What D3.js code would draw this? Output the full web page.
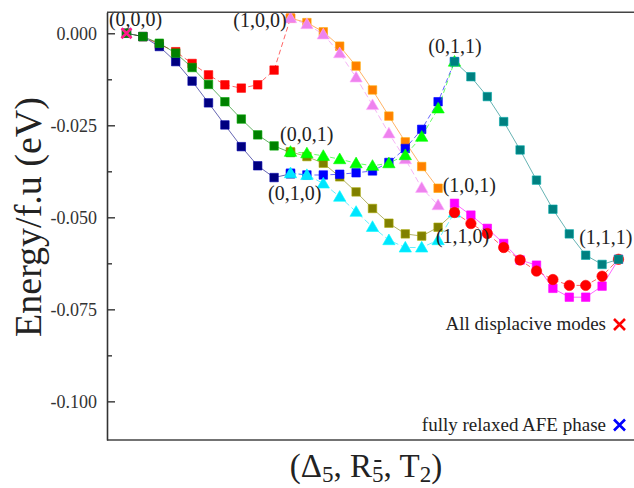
<!DOCTYPE html>
<html><head><meta charset="utf-8">
<script src="https://cdn.jsdelivr.net/npm/d3@7"></script>
<style>
html,body{margin:0;padding:0;background:#fff;}
svg{display:block;font-family:"Liberation Serif","Times New Roman",serif;}
svg text{font-family:"Liberation Serif","Times New Roman",serif;}
</style>
</head><body>
<svg id="c" width="634" height="488"></svg>
<script>
// ---------- data ----------
const yTicks = [0, -0.025, -0.05, -0.075, -0.1];
const yMinorTicks = [-0.0125, -0.0375, -0.0625, -0.0875];
const yTickLabels = ["0.000", "-0.025", "-0.050", "-0.075", "-0.100"];

// path step index where each series starts
const redSqStart = 0;
const redSq = [0, -0.0009, -0.0030, -0.0050, -0.0082, -0.0113, -0.0140, -0.0149, -0.0140, -0.0100, 0.0041];
const navySqStart = 0;
const navySq = [0, -0.0009, -0.0036, -0.0077, -0.0130, -0.0189, -0.0249, -0.0308, -0.0360, -0.0392, -0.0382];
const greenSqStart = 0;
const greenSq = [0, -0.0009, -0.0027, -0.0054, -0.0093, -0.0139, -0.0186, -0.0233, -0.0276, -0.0306, -0.0324];
const oliveSqStart = 10;
const oliveSq = [-0.0322, -0.0335, -0.0353, -0.0390, -0.0431, -0.0476, -0.0516, -0.0545, -0.0551, -0.0527, -0.0487];
const orangeSqStart = 10;
const orangeSq = [0.0041, 0.0029, 0.0004, -0.0035, -0.0089, -0.0154, -0.0225, -0.0295, -0.0362, -0.0421];
const violetTriStart = 10;
const violetTri = [0.0041, 0.0025, -0.0003, -0.0054, -0.0120, -0.0195, -0.0272, -0.0342, -0.0420, -0.0467];
const blueSqStart = 10;
const blueSq = [-0.0380, -0.0385, -0.0385, -0.0383, -0.0379, -0.0374, -0.0351, -0.0313, -0.0261, -0.0186, -0.0077];
const greenTriStart = 10;
const greenTri = [-0.0322, -0.0326, -0.0333, -0.0342, -0.0353, -0.0360, -0.0353, -0.0331, -0.0281, -0.0204, -0.0077];
const cyanTriStart = 10;
const cyanTri = [-0.0380, -0.0385, -0.0408, -0.0444, -0.0485, -0.0526, -0.0562, -0.0582, -0.0582, -0.0562, -0.0487];
const magentaSqStart = 20;
const magentaSq = [-0.0462, -0.0494, -0.0530, -0.0571, -0.0616, -0.0630, -0.0693, -0.0717, -0.0717, -0.0687, -0.0614];
const redCircStart = 20;
const redCirc = [-0.0487, -0.0517, -0.0544, -0.0582, -0.0616, -0.0646, -0.0669, -0.0685, -0.0685, -0.0660, -0.0614];
const tealSqStart = 20;
const tealSq = [-0.0077, -0.0118, -0.0172, -0.0240, -0.0317, -0.0399, -0.0478, -0.0545, -0.0603, -0.0628, -0.0614];

const vertexLabels = ["(0,0,0)", "(1,0,0)", "(0,1,1)", "(0,0,1)", "(0,1,0)", "(1,0,1)", "(1,1,0)", "(1,1,1)"];
const vertexLabelX = [-1.07, 6.51, 18.40, 9.36, 8.63, 19.28, 18.87, 27.60];
const vertexLabelY = [0.0020, 0.0017, -0.0054, -0.0293, -0.0453, -0.0431, -0.0570, -0.0573];

const legendLabels = ["All displacive modes", "fully relaxed AFE phase"];
const legendColors = ["#ff0000", "#0000ff"];
const originMarkerColor = "#ff1a8c";

// ---------- chart ----------
(function () {
const svg = d3.select("#c");
const W = 634;
const pLeft = 107, pTop = 12.3, pBottom = 440;

const x = d3.scaleLinear().domain([0, 30]).range([126.5, 618.5]);
const y = d3.scaleLinear().domain([0.0057, -0.1105]).range([pTop, pBottom]);

const series = [
  {vals: redSq, start: redSqStart, color: "#ff0000", shape: "square", dash: "5,3"},
  {vals: navySq, start: navySqStart, color: "#000080", shape: "square", dash: null},
  {vals: greenSq, start: greenSqStart, color: "#008000", shape: "square", dash: null},
  {vals: oliveSq, start: oliveSqStart, color: "#808000", shape: "square", dash: null},
  {vals: orangeSq, start: orangeSqStart, color: "#ff8000", shape: "square", dash: null},
  {vals: violetTri, start: violetTriStart, color: "#ee82ee", shape: "triangle", dash: "6,3"},
  {vals: blueSq, start: blueSqStart, color: "#0000ff", shape: "square", dash: "5,3"},
  {vals: greenTri, start: greenTriStart, color: "#00ff00", shape: "triangle", dash: "5,3"},
  {vals: cyanTri, start: cyanTriStart, color: "#00e5ff", shape: "triangle", dash: "6,3"},
  {vals: magentaSq, start: magentaSqStart, color: "#ff00ff", shape: "square", dash: null},
  {vals: redCirc, start: redCircStart, color: "#ff0000", shape: "circle", dash: "5,3"},
  {vals: tealSq, start: tealSqStart, color: "#008080", shape: "square", dash: null}
];

const symType = {square: d3.symbolSquare, triangle: d3.symbolTriangle, circle: d3.symbolCircle};
const symSize = {square: 72, triangle: 66, circle: 85};

const line = d3.line().x(d => x(d.i)).y(d => y(d.v));

series.forEach(s => {
  const pts = s.vals.map((v, k) => ({i: s.start + k, v}));
  const g = svg.append("g");
  g.append("path").datum(pts)
    .attr("d", line).attr("fill", "none")
    .attr("stroke", s.color).attr("stroke-width", 1).attr("stroke-opacity", 0.6)
    .attr("stroke-dasharray", s.dash);
  g.selectAll("path.m").data(pts).enter().append("path").attr("class", "m")
    .attr("transform", d => `translate(${x(d.i)},${y(d.v) + (s.shape === "triangle" ? 1 : 0)})`)
    .attr("d", d3.symbol().type(symType[s.shape]).size(symSize[s.shape]))
    .attr("fill", s.color)
    .attr("stroke", d3.color(s.color).brighter(0.8)).attr("stroke-width", 0.6);
});

function cross(g, cx, cy, r, color, w) {
  g.append("path")
    .attr("d", `M${cx - r},${cy - r}L${cx + r},${cy + r}M${cx - r},${cy + r}L${cx + r},${cy - r}`)
    .attr("stroke", color).attr("stroke-width", w).attr("fill", "none");
}
cross(svg, x(0), y(0), 5, originMarkerColor, 2.6);

svg.append("g").selectAll("text").data(vertexLabels).enter().append("text")
  .attr("x", (d, i) => x(vertexLabelX[i]))
  .attr("y", (d, i) => y(vertexLabelY[i]))
  .attr("font-size", 20).attr("fill", "#222")
  .text(d => d);

svg.append("line").attr("x1", pLeft).attr("x2", W).attr("y1", pTop).attr("y2", pTop)
  .attr("stroke", "#444").attr("stroke-width", 1.6);
svg.append("line").attr("x1", pLeft).attr("x2", W).attr("y1", pBottom).attr("y2", pBottom)
  .attr("stroke", "#444").attr("stroke-width", 1.6);

const yAxis = d3.axisLeft(y).tickValues(yTicks).tickSizeInner(-8).tickSizeOuter(0).tickPadding(10)
  .tickFormat((d, i) => yTickLabels[i]);
const ga = svg.append("g").attr("transform", `translate(${pLeft},0)`).call(yAxis);
ga.attr("font-family", null);
ga.select(".domain").attr("stroke", "#333").attr("stroke-width", 1.6);
ga.selectAll(".tick line").attr("stroke", "#333").attr("stroke-width", 1.4);
ga.selectAll(".tick text").attr("font-size", 18).attr("fill", "#333")
  .style("font-family", '"Liberation Serif", serif');
const yMinor = d3.axisLeft(y).tickValues(yMinorTicks).tickSizeInner(-5).tickSizeOuter(0).tickFormat("");
const gm = svg.append("g").attr("transform", `translate(${pLeft},0)`).call(yMinor);
gm.select(".domain").remove();
gm.selectAll(".tick line").attr("stroke", "#333").attr("stroke-width", 1.4);

svg.append("text")
  .attr("transform", `translate(41,217) rotate(-90)`)
  .attr("text-anchor", "middle").attr("font-size", 38).attr("fill", "#222")
  .text("Energy/f.u (eV)");

// x title
const xt = svg.append("text").attr("x", 366).attr("y", 477)
  .attr("text-anchor", "middle").attr("font-size", 33).attr("fill", "#222");
xt.append("tspan").text("(Δ");
xt.append("tspan").attr("font-size", 23).attr("dy", 5).text("5");
xt.append("tspan").attr("dy", -5).text(", R");
xt.append("tspan").attr("font-size", 23).attr("dy", 5).text("5");
xt.append("tspan").attr("dy", -5).text(", T");
xt.append("tspan").attr("font-size", 23).attr("dy", 5).text("2");
xt.append("tspan").attr("dy", -5).text(")");
// overbar on the R subscript
const full = "(Δ5, R5";
const ext = xt.node().getExtentOfChar(full.length - 1);
svg.append("line")
  .attr("x1", ext.x + ext.width * 0.2).attr("x2", ext.x + ext.width * 0.8)
  .attr("y1", 461).attr("y2", 461)
  .attr("stroke", "#222").attr("stroke-width", 2);

const legY = [330, 430.5];
legendLabels.forEach((t, i) => {
  svg.append("text").attr("x", 606).attr("y", legY[i]).attr("text-anchor", "end")
    .attr("font-size", 19).attr("fill", "#222").text(t);
  cross(svg, 619.5, legY[i] - 5.5, 5.5, legendColors[i], 2.6);
});
})();
</script>
</body></html>
